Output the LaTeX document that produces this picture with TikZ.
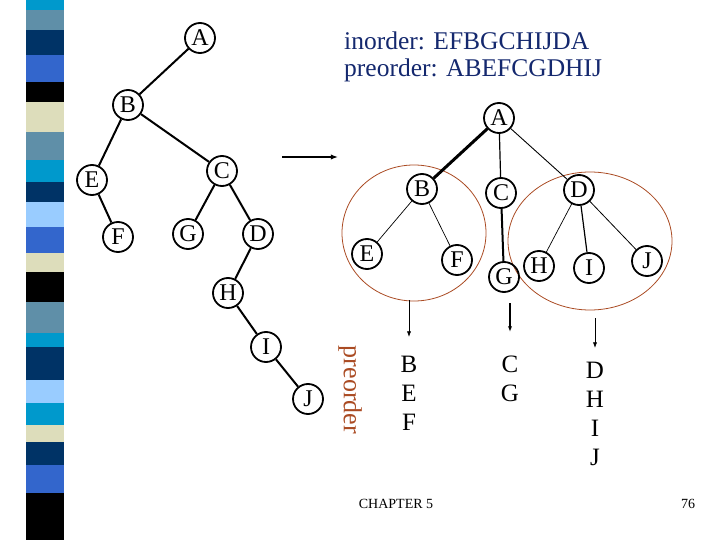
\documentclass[tikz,border=0pt]{standalone}
\usepackage{fontspec}
\setmainfont{Liberation Serif}
\usepackage{xcolor}
\usetikzlibrary{arrows.meta}
\definecolor{scyan}{RGB}{0,153,204}
\definecolor{ssteel}{RGB}{95,143,168}
\definecolor{snavy}{RGB}{0,51,102}
\definecolor{sroyal}{RGB}{51,102,204}
\definecolor{sbeige}{RGB}{221,221,187}
\definecolor{slight}{RGB}{153,204,255}
\definecolor{headblue}{RGB}{20,40,110}
\definecolor{rust}{RGB}{170,75,35}
\tikzset{
    circ/.style={draw, circle, line width=1.8pt, inner sep=0pt, minimum size=30pt, font=\fontsize{24}{24}\selectfont},
    seq/.style={inner sep=0pt, font=\fontsize{25}{25}\selectfont},
    grp/.style={draw=rust, line width=0.8pt}}

\begin{document}
\begin{tikzpicture}[x=1pt,y=-1pt]
\useasboundingbox (0,0) rectangle (720,540);
% side stripes
\foreach \ya/\yb/\col in {0/10/scyan, 10/30/ssteel, 30/55/snavy, 55/82/sroyal, 82/102/black,
  102/132/sbeige, 132/160/ssteel, 160/182/scyan, 182/202/snavy, 202/227/slight, 227/253/sroyal,
  253/272/sbeige, 272/302/black, 302/333/ssteel, 333/347/scyan, 347/380/snavy, 380/403/slight,
  403/425/scyan, 425/442/sbeige, 442/465/snavy, 465/493/sroyal, 493/540/black}
  \fill[\col] (26,\ya) rectangle (64,\yb);

% binary tree
\node[circ] (lA) at (200,38) {A};
\node[circ] (lB) at (128,105) {B};
\node[circ] (lE) at (92,180) {E};
\node[circ] (lC) at (222,171) {C};
\node[circ] (lF) at (118,237) {F};
\node[circ] (lG) at (188,234) {G};
\node[circ] (lD) at (258,234) {D};
\node[circ] (lH) at (228,293) {H};
\node[circ] (lI) at (266,347) {I};
\node[circ] (lJ) at (308,399) {J};
\draw[line width=2pt] (lA) -- (lB);
\draw[line width=2pt] (lB) -- (lE);
\draw[line width=2pt] (lB) -- (lC);
\draw[line width=2pt] (lE) -- (lF);
\draw[line width=2pt] (lC) -- (lG);
\draw[line width=2pt] (lC) -- (lD);
\draw[line width=2pt] (lD) -- (lH);
\draw[line width=2pt] (lH) -- (lI);
\draw[line width=2pt] (lI) -- (lJ);

\node[anchor=base west, inner sep=0pt, text=headblue, font=\fontsize{25.5}{25.5}\selectfont] (ino) at (344,50) {inorder: EFBGCHIJDA};
\node[anchor=base west, inner sep=0pt, text=headblue, font=\fontsize{25.5}{25.5}\selectfont] (pre) at (344,77) {preorder: ABEFCGDHIJ};

\coordinate (ar1) at (282,157);
\coordinate (ar2) at (338,157);
\draw [-{Latex[length=2.5mm]}, line width=1.5pt] (ar1) -- (ar2);

% forest
\draw[grp] (414,233) ellipse (72 and 68);
\draw[grp] (590,241) ellipse (82 and 69);
\node[circ] (rA) at (499,118) {A};
\node[circ] (rB) at (422,189) {B};
\node[circ] (rC) at (501,193) {C};
\node[circ] (rD) at (579,190) {D};
\node[circ] (rE) at (367,254) {E};
\node[circ] (rF) at (457,260) {F};
\node[circ] (rG) at (504,277) {G};
\node[circ] (rH) at (539,266) {H};
\node[circ] (rI) at (589,268) {I};
\node[circ] (rJ) at (647,261) {J};
\draw[line width=3pt] (rA) -- (rB);
\draw[line width=1.2pt] (rA) -- (rC);
\draw[line width=0.9pt] (rA) -- (rD);
\draw[line width=0.7pt] (rB) -- (rE);
\draw[line width=0.7pt] (rB) -- (rF);
\draw[line width=2pt] (rC) -- (rG);
\draw[line width=0.7pt] (rD) -- (rH);
\draw[line width=1.2pt] (rD) -- (rI);
\draw[line width=0.8pt] (rD) -- (rJ);

\node[rotate=-90, inner sep=0pt, text=rust, font=\fontsize{26}{26}\selectfont] (prelbl) at (350,390) {preorder};

% the three lists
\node[seq] (s1) at (409,364) {B};
\node[seq] (s2) at (409,393) {E};
\node[seq] (s3) at (409,422) {F};
\node[seq] (t1) at (510,364) {C};
\node[seq] (t2) at (510,393) {G};
\node[seq] (u1) at (595,370) {D};
\node[seq] (u2) at (595,399) {H};
\node[seq] (u3) at (595,428) {I};
\node[seq] (u4) at (595,457) {J};
\coordinate (d1a) at (409,300);
\coordinate (d1b) at (409,337);
\coordinate (d2a) at (510,303);
\coordinate (d2b) at (510,332);
\coordinate (d3a) at (595,318);
\coordinate (d3b) at (595,348);
\draw [-{Latex[length=2mm]}, line width=0.8pt] (d1a) -- (d1b);
\draw [-{Latex[length=2mm]}, line width=1.8pt] (d2a) -- (d2b);
\draw [-{Latex[length=2mm]}, line width=0.8pt] (d3a) -- (d3b);

\node[font=\fontsize{14}{14}\selectfont] (chap) at (396,504) {CHAPTER 5};
\node[font=\fontsize{14}{14}\selectfont] (pgno) at (688,504) {76};
\end{tikzpicture}
\end{document}
